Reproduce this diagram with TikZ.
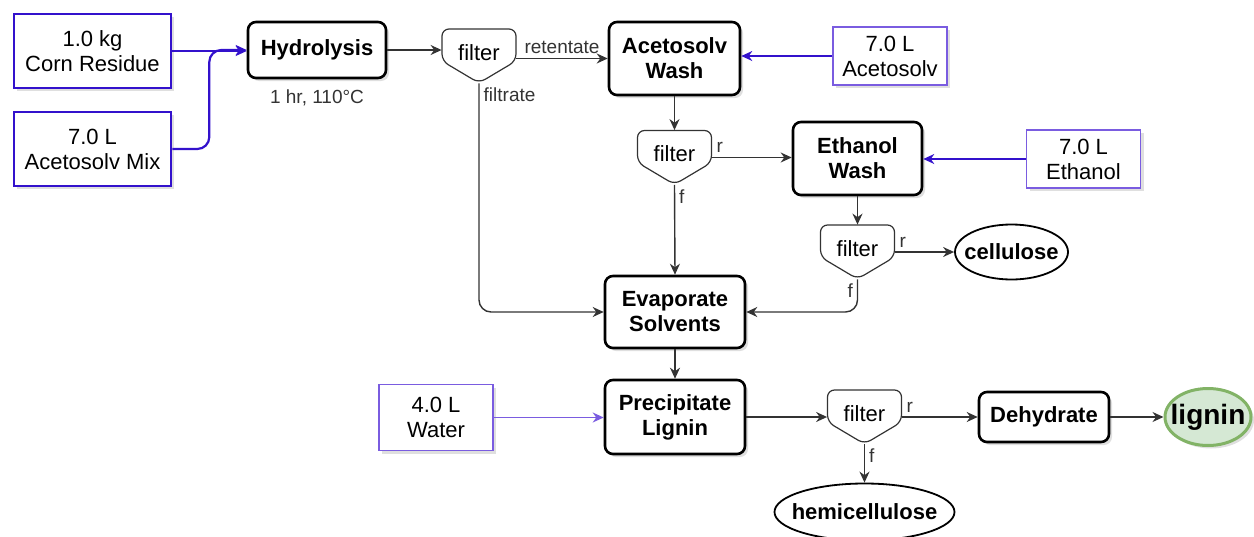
\documentclass[tikz,border=0pt]{standalone}
\usepackage{fontspec}
\setmainfont{Liberation Sans}
\usetikzlibrary{arrows.meta,shapes.geometric,positioning,shadows}
\definecolor{feedblue}{RGB}{51,17,204}
\definecolor{feedpurple}{RGB}{122,92,224}
\definecolor{linegray}{RGB}{51,51,51}
\definecolor{ligninfill}{RGB}{213,232,212}
\definecolor{ligninline}{RGB}{130,179,102}

\begin{document}
\begin{tikzpicture}[x=0.5pt,y=-0.5pt,>={Stealth[length=5.5pt,width=5pt]},
	font=\fontsize{11}{12.5}\selectfont,
	Shadow/.style={drop shadow={shadow xshift=1.5pt,shadow yshift=-1.5pt,opacity=0.25}},
	Edge/.style={->,linegray,line width=0.7pt},
	FeedEdge/.style={->,feedblue,line width=1.1pt},
	ThinEdge/.style={->,feedblue,line width=0.6pt},
	Label/.style={font=\fontsize{9.5}{11}\selectfont,inner sep=2pt,text=linegray},
	ProcNode/.style={rectangle,rounded corners=4pt,draw=black,line width=1.3pt,fill=white,
		align=center,inner sep=0pt,font=\fontsize{11}{12.5}\selectfont\bfseries,Shadow},
	FeedNode/.style={rectangle,draw=feedblue,line width=1.3pt,fill=white,align=center,
		inner sep=0pt,minimum width=78.5pt,minimum height=37pt,Shadow},
	FeedThin/.style={rectangle,draw=feedpurple,line width=0.8pt,fill=white,align=center,
		inner sep=0pt,minimum width=57pt,minimum height=29pt,Shadow},
	FilterNode/.style={rectangle,inner sep=0pt,minimum width=37pt,minimum height=27pt,
		text height=8pt,text depth=4pt},
	FilterLine/.style={draw=linegray,line width=0.6pt,rounded corners=3.5pt},
	EndNode/.style={ellipse,draw=black,line width=0.9pt,fill=white,inner xsep=-4pt,inner ysep=0pt,
		font=\fontsize{11}{12.5}\selectfont\bfseries},
]
	\useasboundingbox (0,0) rectangle (1254,536);

	% feeds
	\node[FeedNode] (Corn) at (92.5,51) {1.0 kg\\Corn Residue};
	\node[FeedNode] (Mix) at (92.5,149) {7.0 L\\Acetosolv Mix};
	\node[FeedThin] (AcetoFeed) at (890,56) {7.0 L\\Acetosolv};
	\node[FeedThin] (EthFeed) at (1083.5,159) {7.0 L\\Ethanol};
	\node[FeedThin,minimum height=33pt] (Water) at (436,417.5) {4.0 L\\Water};

	% process steps
	\node[ProcNode,minimum width=69pt,minimum height=28pt] (Hyd) at (317,50) {Hydrolysis};
	\node[Label,below=3pt of Hyd] (HydNote) {1 hr, 110°C};
	\node[ProcNode,minimum width=65.5pt,minimum height=36.5pt] (AW) at (674.5,58.5) {Acetosolv\\Wash};
	\node[ProcNode,minimum width=64.5pt,minimum height=36.5pt] (EW) at (857.5,158.5) {Ethanol\\Wash};
	\node[ProcNode,minimum width=70pt,minimum height=36pt] (Evap) at (675,312) {Evaporate\\Solvents};
	\node[ProcNode,minimum width=70pt,minimum height=37pt] (Prec) at (675,417) {Precipitate\\Lignin};
	\node[ProcNode,minimum width=65pt,minimum height=25pt] (Dehyd) at (1044,417) {Dehydrate};

	% filters
	\node[FilterNode] (F1) at (479,56) {filter};
	\node[FilterNode] (F2) at (674.5,157.5) {filter};
	\node[FilterNode] (F3) at (857.5,252) {filter};
	\node[FilterNode] (F4) at (864.5,417) {filter};
	\foreach \F in {F1,F2,F3,F4}
		\draw[FilterLine,shift={(\F)}] (-37,-27) -- (37,-27) -- (37,5) -- (0,27) -- (-37,5) -- cycle;

	% products
	\node[EndNode,minimum width=56.5pt,minimum height=27.5pt] (Cell) at (1011.5,252) {cellulose};
	\node[EndNode,inner xsep=-6pt,minimum width=90pt,minimum height=28.5pt] (Hemi) at (864.5,512) {hemicellulose};
	\node[EndNode,draw=ligninline,fill=ligninfill,line width=1.5pt,inner xsep=-3.5pt,minimum width=43pt,
		minimum height=28.5pt,font=\fontsize{14}{16}\selectfont\bfseries,Shadow] (Lignin) at (1208,417) {lignin};

	% connectors
	\draw[FeedEdge] (Corn.east) -- (Corn.east -| Hyd.west);
	\draw[FeedEdge,rounded corners=6pt] (Mix.east) -- ++(37,0) |- (Hyd.west);
	\draw[Edge] (Hyd.east) -- (Hyd.east -| F1.west);
	\draw[Edge] (F1.east |- AW.west) -- (AW.west) node[midway,above,Label]{retentate};
	\draw[Edge,rounded corners=6pt] (F1.south) |- (Evap.west) node[pos=0,anchor=north west,Label]{filtrate};
	\draw[ThinEdge] (AcetoFeed.west) -- (AcetoFeed.west -| AW.east);
	\draw[Edge] (AW.south) -- (F2.north);
	\draw[Edge] (F2.east) -- (F2.east -| EW.west) node[pos=0,above right,Label]{r};
	\draw[Edge] (F2.south) -- (Evap.north) node[pos=0,anchor=north west,Label]{f};
	\draw[ThinEdge] (EthFeed.west) -- (EthFeed.west -| EW.east);
	\draw[Edge] (EW.south) -- (F3.north);
	\draw[Edge] (F3.east) -- (Cell.west) node[pos=0,above right,Label]{r};
	\draw[Edge,rounded corners=6pt] (F3.south) |- (Evap.east) node[pos=0,anchor=north east,Label]{f};
	\draw[Edge] (Evap.south) -- (Prec.north);
	\draw[ThinEdge,feedpurple,line width=0.9pt] (Water.east) -- (Water.east -| Prec.west);
	\draw[Edge] (Prec.east) -- (F4.west);
	\draw[Edge] (F4.east) -- (Dehyd.west) node[pos=0,above right,Label]{r};
	\draw[Edge] (F4.south) -- (Hemi.north) node[pos=0,anchor=north west,Label]{f};
	\draw[Edge] (Dehyd.east) -- (Lignin.west);
\end{tikzpicture}
\end{document}
